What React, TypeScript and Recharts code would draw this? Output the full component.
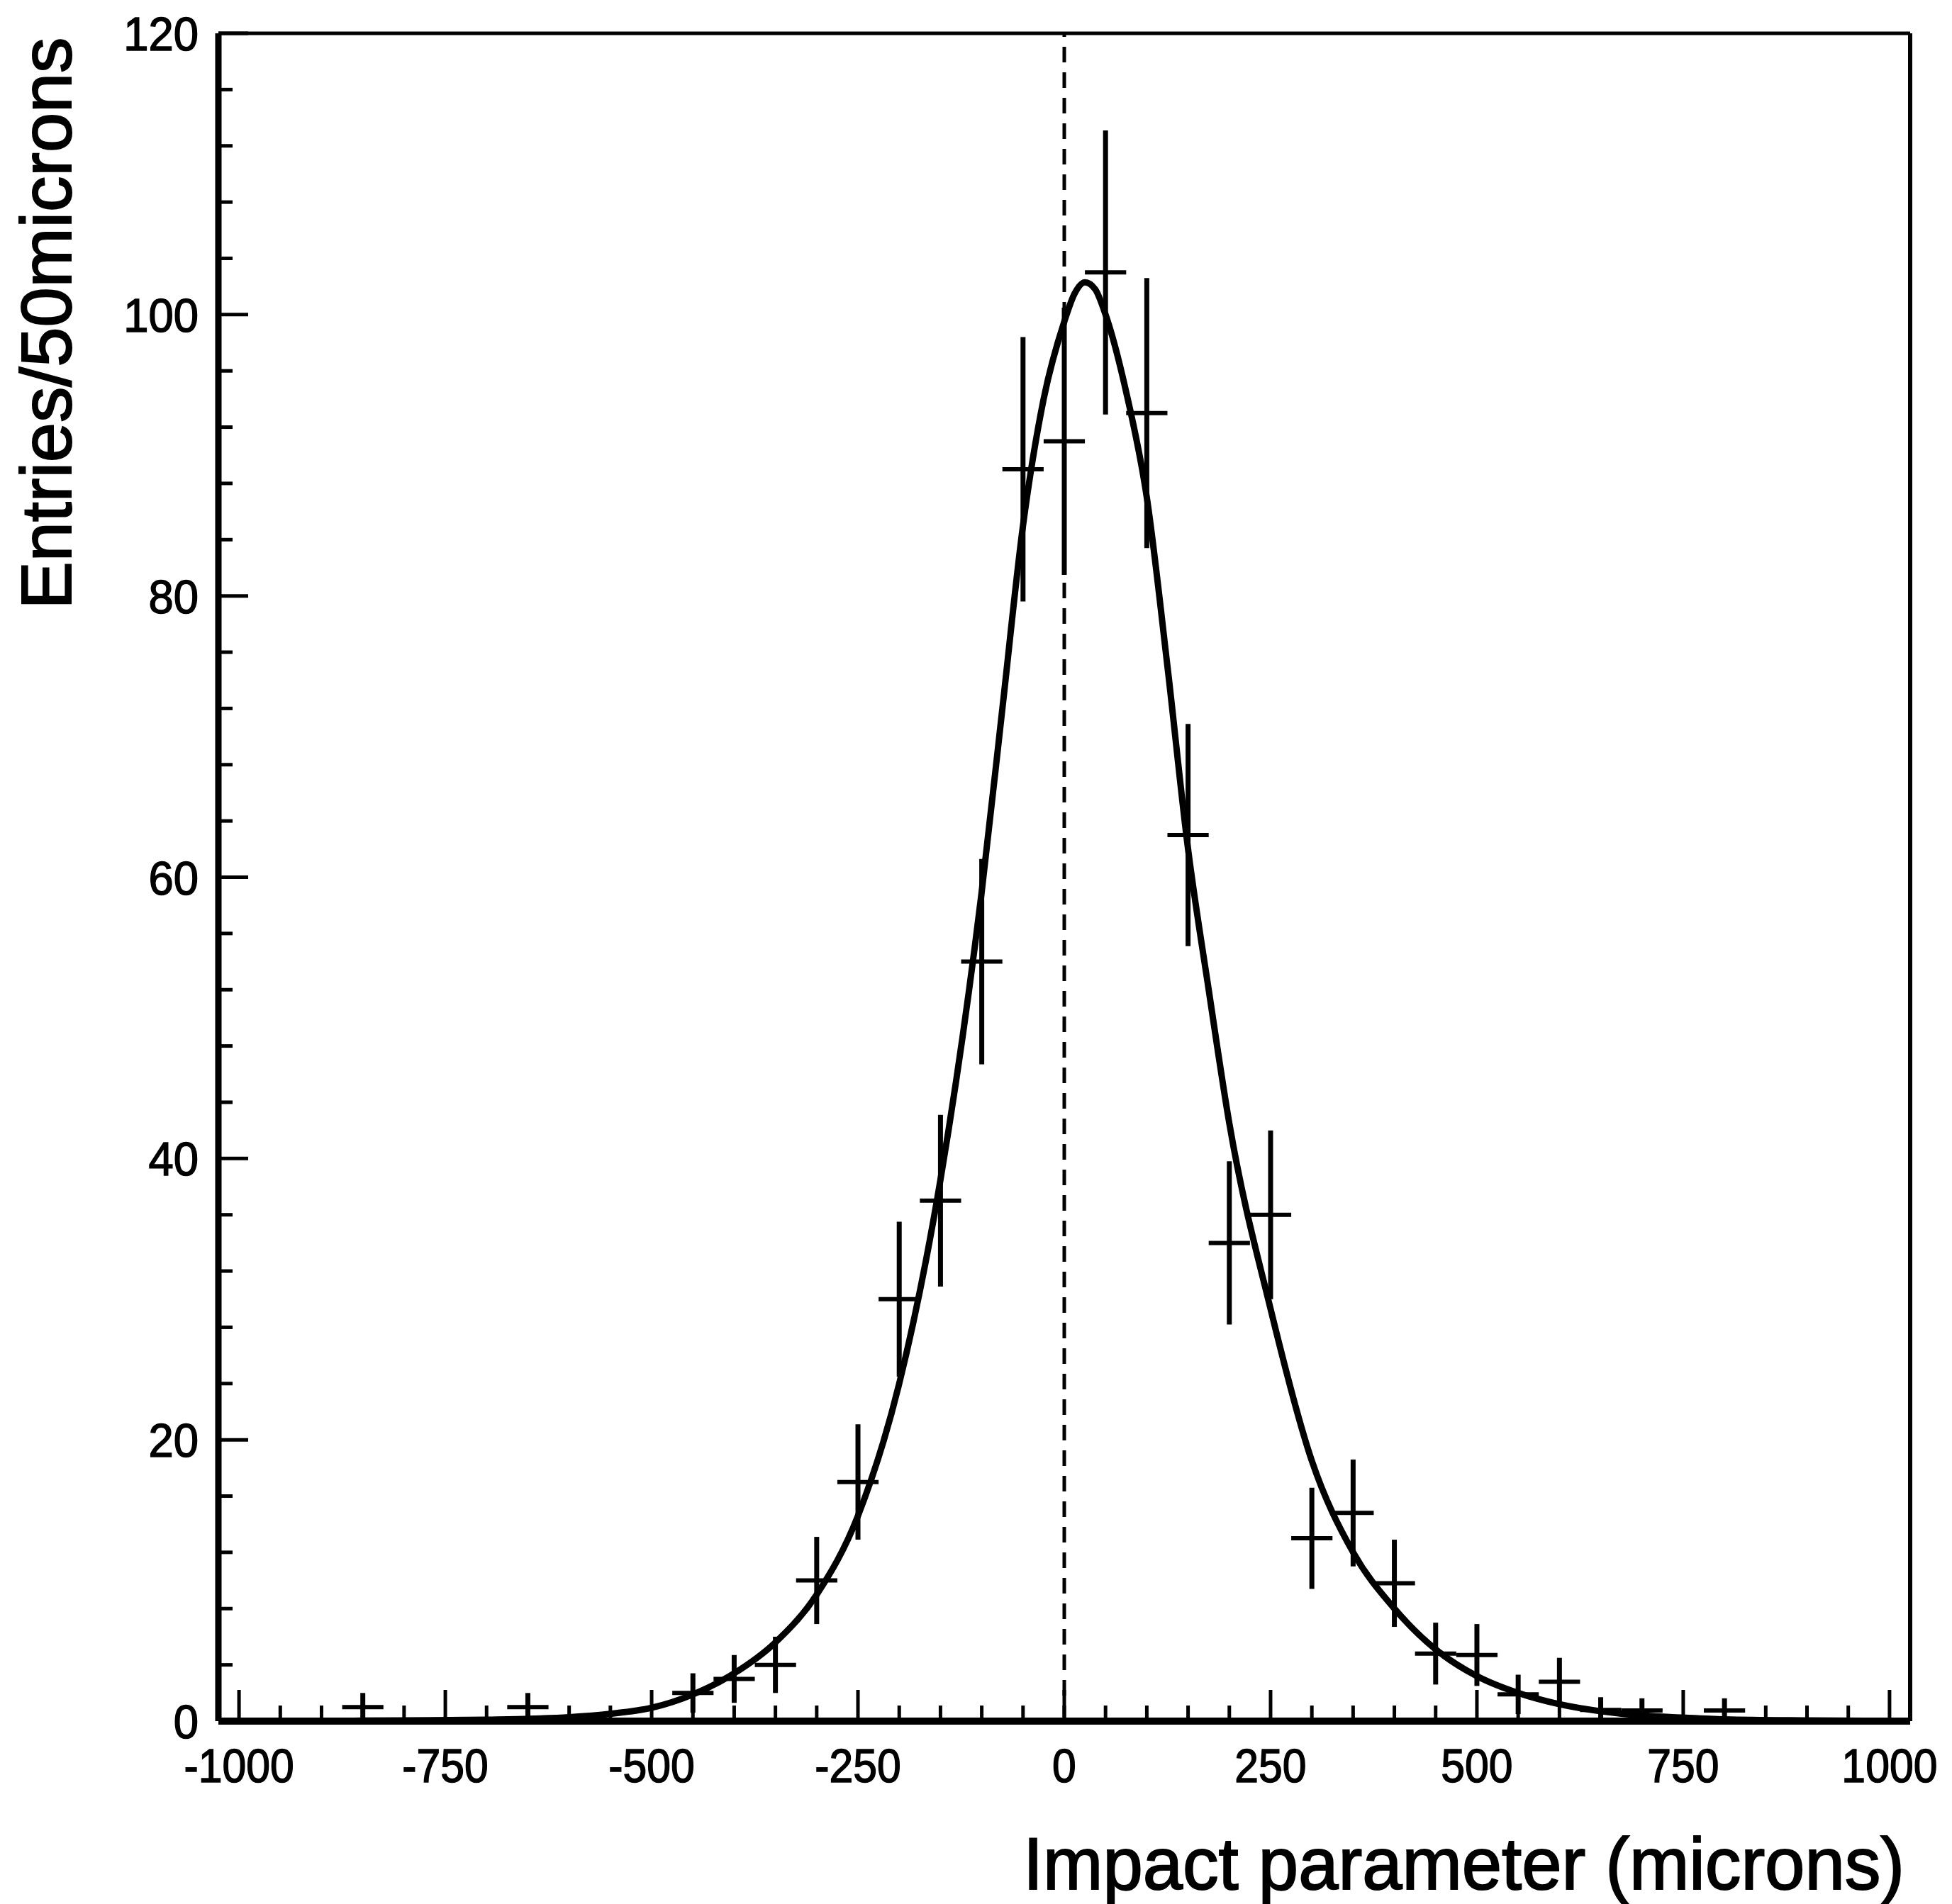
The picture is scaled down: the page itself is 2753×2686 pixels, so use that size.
import { ComposedChart, Line, Scatter, ErrorBar, XAxis, YAxis, ReferenceLine } from "recharts";

// measured histogram (bin centres, 50 micron bins)
const binCentres = [-850, -650, -450, -400, -350, -300, -250, -200, -150, -100, -50, 0, 50, 100, 150, 200, 250, 300, 350, 400, 450, 500, 550, 600, 650, 700, 800];
const entries = [1, 1, 2, 3, 4, 10, 17, 30, 37, 54, 89, 91, 103, 93, 63, 34, 36, 13, 14.8, 9.8, 4.8, 4.7, 1.9, 2.8, 0.8, 0.75, 0.75];
const entryErrors = [1, 1, 1.4, 1.7, 2, 3.1, 4.1, 5.5, 6.1, 7.3, 9.4, 9.5, 10.1, 9.6, 7.9, 5.8, 6, 3.6, 3.8, 3.1, 2.2, 2.2, 1.4, 1.7, 0.9, 0.87, 0.87];
const halfBin = 25;

// fitted curve
const fitX = [-1025, -900, -800, -700, -650, -600, -550, -500, -450, -400, -350, -300, -250, -200, -150, -100, -75, -50, -25, 0, 12.5, 25, 37.5, 50, 75, 100, 125, 150, 175, 200, 250, 300, 350, 400, 450, 500, 550, 600, 650, 700, 750, 800, 900, 1025];
const fitY = [0, 0.02, 0.05, 0.1, 0.16, 0.28, 0.52, 0.95, 1.9, 3.4, 5.6, 9.0, 14.6, 24, 38.5, 59, 72, 85, 94, 99.5, 101.5, 102.3, 101.8, 100, 94.5, 87, 75, 62, 52, 42.5, 29.3, 18.5, 12, 8, 5.1, 3.2, 2.0, 1.2, 0.7, 0.4, 0.25, 0.13, 0.05, 0.01];

const xMajorTicks = [-1000, -750, -500, -250, 0, 250, 500, 750, 1000];
const xMinorTicks = [-950, -900, -850, -800, -700, -650, -600, -550, -450, -400, -350, -300, -200, -150, -100, -50, 50, 100, 150, 200, 300, 350, 400, 450, 550, 600, 650, 700, 800, 850, 900, 950];
const yMajorTicks = [0, 20, 40, 60, 80, 100, 120];
const yMinorTicks = [4, 8, 12, 16, 24, 28, 32, 36, 44, 48, 52, 56, 64, 68, 72, 76, 84, 88, 92, 96, 104, 108, 112, 116];

const FONT = "'Liberation Sans', Arial, Helvetica, sans-serif";

const points = binCentres.map((x, i) => ({ x, y: entries[i], ey: entryErrors[i], ex: halfBin }));
const curve = fitX.map((x, i) => ({ x, v: fitY[i] }));

const XTick = (props: any) => {
  const { x, y, payload } = props;
  const major = xMajorTicks.includes(payload.value);
  return (
    <g>
      <line x1={x} x2={x} y1={y} y2={y - (major ? 44 : 22)} stroke="#000" strokeWidth={5} />
      {major && (
        <text
          transform={`translate(${x}, ${y + 86}) scale(0.92, 1)`}
          textAnchor="middle"
          fontSize={66}
          fontFamily={FONT}
          fill="#000"
          stroke="#000"
          strokeWidth={1.5}
        >
          {payload.value}
        </text>
      )}
    </g>
  );
};

const YTick = (props: any) => {
  const { x, y, payload } = props;
  const major = yMajorTicks.includes(payload.value);
  return (
    <g>
      <line x1={x} x2={x + (major ? 42 : 20)} y1={y} y2={y} stroke="#000" strokeWidth={5} />
      {major && (
        <text
          transform={`translate(${x - 28}, ${y + 24}) scale(0.96, 1)`}
          textAnchor="end"
          fontSize={66}
          fontFamily={FONT}
          fill="#000"
          stroke="#000"
          strokeWidth={1.5}
        >
          {payload.value}
        </text>
      )}
    </g>
  );
};

const App = () => {
  return (
    <div style={{ position: "absolute", left: 0, top: 0, width: 2753, height: 2686, background: "#fff" }}>
      <ComposedChart width={2753} height={2686} margin={{ top: 46, right: 58, bottom: 257, left: 307 }}>
        <XAxis
          xAxisId="main"
          dataKey="x"
          type="number"
          domain={[-1025, 1025]}
          ticks={[...xMajorTicks, ...xMinorTicks]}
          interval={0}
          height={1}
          tickSize={0}
          tickMargin={0}
          tick={<XTick />}
          axisLine={{ stroke: "#000", strokeWidth: 10 }}
          allowDataOverflow
        />
        <XAxis xAxisId="top" orientation="top" dataKey="x" type="number" domain={[-1025, 1025]} height={1} tick={false} tickLine={false} axisLine={{ stroke: "#000", strokeWidth: 5 }} />
        <YAxis
          yAxisId="main"
          type="number"
          domain={[0, 120]}
          ticks={[...yMajorTicks, ...yMinorTicks]}
          interval={0}
          width={1}
          tickSize={0}
          tickMargin={0}
          tick={<YTick />}
          axisLine={{ stroke: "#000", strokeWidth: 9 }}
          allowDataOverflow
        />
        <YAxis yAxisId="right" orientation="right" type="number" domain={[0, 120]} width={1} tick={false} tickLine={false} axisLine={{ stroke: "#000", strokeWidth: 6 }} />
        <ReferenceLine xAxisId="main" yAxisId="main" x={0} stroke="#000" strokeWidth={5} strokeDasharray="22 14" />
        <Line
          xAxisId="main"
          yAxisId="main"
          data={curve}
          dataKey="v"
          type="monotone"
          stroke="#000"
          strokeWidth={9}
          dot={false}
          activeDot={false}
          isAnimationActive={false}
        />
        <Scatter
          xAxisId="main"
          yAxisId="main"
          data={points}
          dataKey="y"
          shape={() => <g />}
          isAnimationActive={false}
        >
          <ErrorBar dataKey="ey" direction="y" width={0} stroke="#000" strokeWidth={7} isAnimationActive={false} />
          <ErrorBar dataKey="ex" direction="x" width={0} stroke="#000" strokeWidth={6} isAnimationActive={false} />
        </Scatter>
      </ComposedChart>
      <svg width={2753} height={2686} style={{ position: "absolute", left: 0, top: 0, pointerEvents: "none" }}>
        <text
          transform="translate(100, 456) rotate(-90)"
          textAnchor="middle"
          fontSize={100}
          fontFamily={FONT}
          textLength={807}
          lengthAdjust="spacingAndGlyphs"
          fill="#000"
          stroke="#000"
          strokeWidth={2}
        >
          Entries/50microns
        </text>
        <text
          x={2686}
          y={2665}
          textAnchor="end"
          fontSize={104}
          fontFamily={FONT}
          textLength={1243}
          lengthAdjust="spacingAndGlyphs"
          fill="#000"
          stroke="#000"
          strokeWidth={2}
        >
          Impact parameter (microns)
        </text>
      </svg>
    </div>
  );
};

export default App;
